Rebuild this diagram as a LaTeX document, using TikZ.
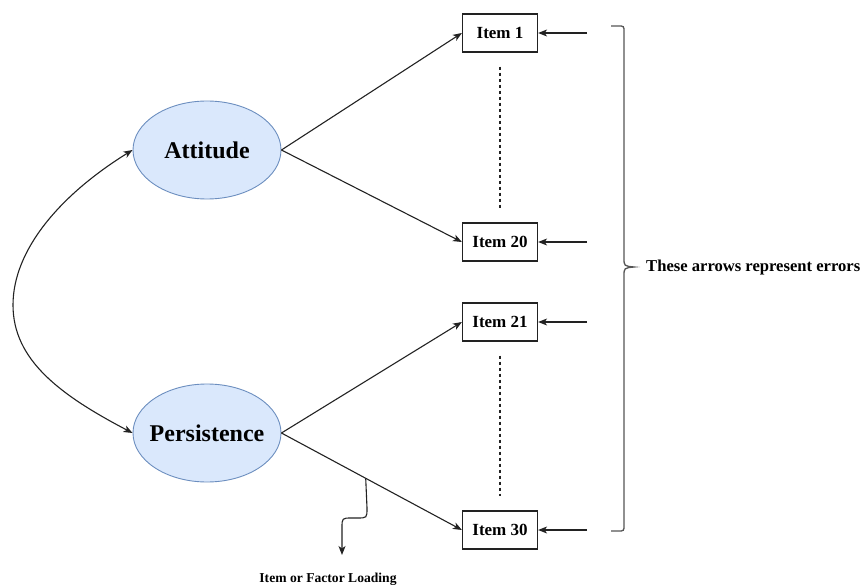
\documentclass[tikz,border=0pt]{standalone}
\usepackage{fontspec}
\setmainfont{Liberation Serif}
\usetikzlibrary{arrows.meta,shapes.geometric}
\definecolor{fillblue}{HTML}{DAE8FC}
\definecolor{strokeblue}{HTML}{6C8EBF}
\definecolor{ink}{HTML}{222222}
\definecolor{bracegray}{HTML}{555555}
\tikzset{
  latent/.style={ellipse, draw=strokeblue, fill=fillblue, line width=0.9pt,
    minimum width=148pt, minimum height=98pt, inner sep=0pt,
    font=\fontsize{24}{28}\selectfont\bfseries},
  itembox/.style={rectangle, draw=ink, line width=1.2pt, minimum width=75pt,
    minimum height=38pt, inner sep=0pt, font=\fontsize{17}{20}\selectfont\bfseries},
  conn/.style={draw=ink, line width=1.1pt, -{Stealth[length=9pt,width=7pt,inset=2.5pt]}},
  dconn/.style={draw=ink, line width=1.1pt, {Stealth[length=9pt,width=7pt,inset=2.5pt]}-{Stealth[length=9pt,width=7pt,inset=2.5pt]}},
  dotline/.style={draw=ink, line width=1.1pt, dash pattern=on 3.5pt off 2.5pt},
  bracestyle/.style={draw=bracegray, line width=1.3pt},
  lbl/.style={inner sep=0pt, font=\bfseries}
}
\begin{document}
\begin{tikzpicture}[x=1pt,y=-1pt]
\useasboundingbox (0,0) rectangle (867,588);
% latent factors
\node[latent] (att) at (207,150) {\makebox[0pt]{Attitude}};
\node[latent] (per) at (207,433) {\makebox[0pt]{Persistence}};
% items
\node[itembox] (i1) at (500,33) {Item 1};
\node[itembox] (i20) at (500,242) {Item 20};
\node[itembox] (i21) at (500,322) {Item 21};
\node[itembox] (i30) at (500,530) {Item 30};
% loadings
\draw[conn] (att.east) -- (i1.west);
\draw[conn] (att.east) -- (i20.west);
\draw[conn] (per.east) -- (i21.west);
\draw[conn] (per.east) -- (i30.west) coordinate[pos=0.467] (ld);
% covariance
\coordinate (cv) at (13,305);
\draw[dconn] (att.west) .. controls (60,195) and (13,250) .. (cv)
  .. controls (13,360) and (60,395) .. (per.west);
% dotted continuation
\path (i1.south) ++(0,14) coordinate (d1a);
\path (i20.north) ++(0,-14) coordinate (d1b);
\draw[dotline] (d1a) -- (d1b);
\path (i21.south) ++(0,14) coordinate (d2a);
\path (i30.north) ++(0,-14) coordinate (d2b);
\draw[dotline] (d2a) -- (d2b);
% error arrows
\coordinate (e1) at (587,33);
\coordinate (e20) at (587,242);
\coordinate (e21) at (587,322);
\coordinate (e30) at (587,530);
\draw[conn] (e1) -- (i1.east);
\draw[conn] (e20) -- (i20.east);
\draw[conn] (e21) -- (i21.east);
\draw[conn] (e30) -- (i30.east);
% brace
\draw[bracestyle] (611,26) -- (618,26) .. controls (624,26) .. (624,32)
  -- (624,258) .. controls (624,266) .. (634,267)
  .. controls (624,268) .. (624,276)
  -- (624,525) .. controls (624,531) .. (618,531) -- (611,531);
\node[lbl, anchor=west, font=\fontsize{16.6}{19}\selectfont\bfseries] (errlbl) at (646,268) {These arrows represent errors};
% loading annotation
\node[lbl, font=\fontsize{13.6}{16}\selectfont\bfseries] (ldlbl) at (328,579) {Item or Factor Loading};
\draw[conn] (ld) -- (367,508) .. controls (367,518) .. (357,518) -- (352,518)
  .. controls (342,518) .. (342,528) -- (342,555);
\end{tikzpicture}
\end{document}
